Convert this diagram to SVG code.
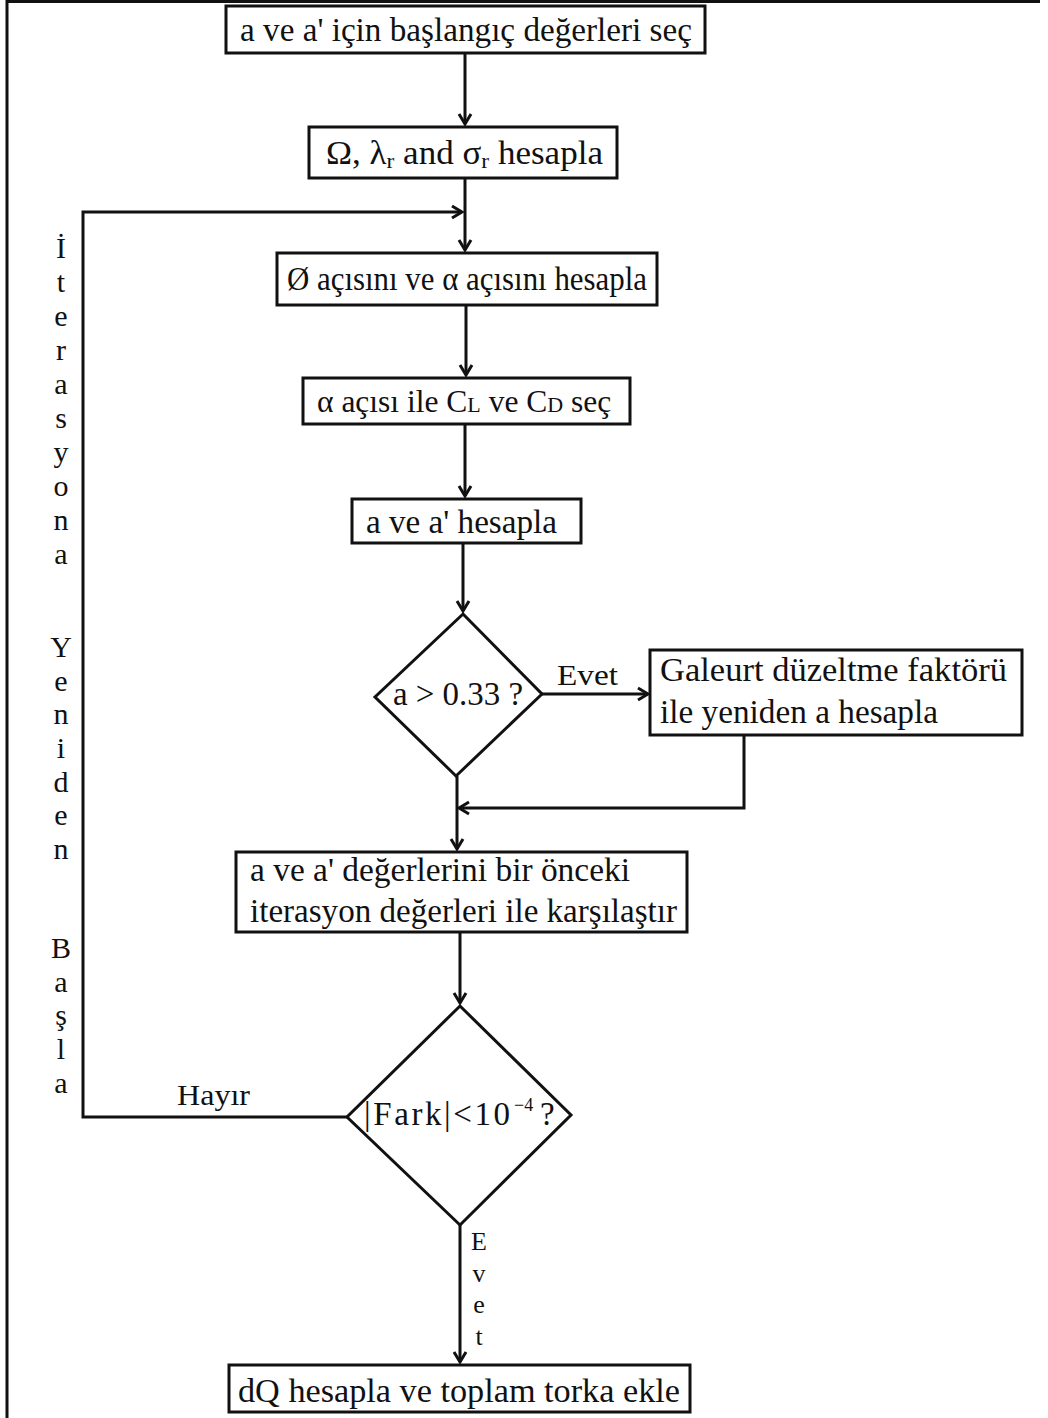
<svg xmlns="http://www.w3.org/2000/svg" width="1048" height="1418" viewBox="0 0 1048 1418">
<style>
text{font-family:"Liberation Serif","Times New Roman",serif;font-size:33px;fill:#111}
.box{fill:#fff;stroke:#111;stroke-width:3}
.ln{fill:none;stroke:#111;stroke-width:3}
.v{font-size:30px;text-anchor:middle}
.ve{font-size:26px;text-anchor:middle}
</style>
<defs>
<marker id="ah" markerUnits="userSpaceOnUse" viewBox="0 0 14 16" refX="12" refY="8" markerWidth="14" markerHeight="16" orient="auto">
<path d="M2,2 L12,8 L2,14" fill="none" stroke="#111" stroke-width="3"/>
</marker>
</defs>
<rect x="0" y="0" width="1048" height="1418" fill="#fff"/>
<polyline points="7,1418 7,1.5 1040,1.5" fill="none" stroke="#111" stroke-width="3"/>

<g id="connectors">
<line class="ln" x1="465" y1="53" x2="465" y2="124" marker-end="url(#ah)"/>
<line class="ln" x1="465" y1="178" x2="465" y2="250" marker-end="url(#ah)"/>
<polyline class="ln" points="347,1117 83,1117 83,212 462,212" marker-end="url(#ah)"/>
<line class="ln" x1="466" y1="305" x2="466" y2="375" marker-end="url(#ah)"/>
<line class="ln" x1="465" y1="424" x2="465" y2="496" marker-end="url(#ah)"/>
<line class="ln" x1="463" y1="543" x2="463" y2="611" marker-end="url(#ah)"/>
<line class="ln" x1="542" y1="694" x2="648" y2="694" marker-end="url(#ah)"/>
<polyline class="ln" points="744,735 744,808 459,808" marker-end="url(#ah)"/>
<line class="ln" x1="457" y1="776" x2="457" y2="849" marker-end="url(#ah)"/>
<line class="ln" x1="460" y1="932" x2="460" y2="1003" marker-end="url(#ah)"/>
<line class="ln" x1="460" y1="1225" x2="460" y2="1362" marker-end="url(#ah)"/>
<text x="557" y="685" style="font-size:30px" textLength="61" lengthAdjust="spacingAndGlyphs">Evet</text>
<text x="177" y="1105" style="font-size:30px" textLength="73" lengthAdjust="spacingAndGlyphs">Hayır</text>
<g id="evet-vertical">
<text class="ve" x="479" y="1250">E</text>
<text class="ve" x="479" y="1282">v</text>
<text class="ve" x="479" y="1313">e</text>
<text class="ve" x="479" y="1345">t</text>
</g>
</g>

<g id="loop-label">
<text class="v" x="61" y="258">İ</text>
<text class="v" x="61" y="292">t</text>
<text class="v" x="61" y="326">e</text>
<text class="v" x="61" y="360">r</text>
<text class="v" x="61" y="394">a</text>
<text class="v" x="61" y="428">s</text>
<text class="v" x="61" y="462">y</text>
<text class="v" x="61" y="496">o</text>
<text class="v" x="61" y="530">n</text>
<text class="v" x="61" y="564">a</text>
<text class="v" x="61" y="657">Y</text>
<text class="v" x="61" y="691">e</text>
<text class="v" x="61" y="724">n</text>
<text class="v" x="61" y="758">i</text>
<text class="v" x="61" y="792">d</text>
<text class="v" x="61" y="825">e</text>
<text class="v" x="61" y="859">n</text>
<text class="v" x="61" y="958">B</text>
<text class="v" x="61" y="992">a</text>
<text class="v" x="61" y="1025">ş</text>
<text class="v" x="61" y="1059">l</text>
<text class="v" x="61" y="1093">a</text>
</g>

<g id="n1">
<rect class="box" x="226" y="6" width="479" height="47"/>
<text x="240" y="41" textLength="452" lengthAdjust="spacingAndGlyphs">a ve a' için başlangıç değerleri seç</text>
</g>
<g id="n2">
<rect class="box" x="309" y="127" width="308" height="51"/>
<text x="326" y="164" textLength="277" lengthAdjust="spacingAndGlyphs">Ω, λ<tspan font-size="22" dy="4">r</tspan><tspan dy="-4">  and σ</tspan><tspan font-size="22" dy="4">r</tspan><tspan dy="-4"> hesapla</tspan></text>
</g>
<g id="n3">
<rect class="box" x="277" y="253" width="380" height="52"/>
<text x="287" y="290" textLength="360" lengthAdjust="spacingAndGlyphs">Ø açısını ve α açısını hesapla</text>
</g>
<g id="n4">
<rect class="box" x="303" y="378" width="327" height="46"/>
<text x="317" y="412" style="font-size:31.5px">α açısı ile C<tspan font-size="22">L</tspan> ve C<tspan font-size="22">D</tspan> seç</text>
</g>
<g id="n5">
<rect class="box" x="352" y="499" width="229" height="44"/>
<text x="366" y="533" textLength="191" lengthAdjust="spacingAndGlyphs">a ve a' hesapla</text>
</g>
<g id="d1">
<polygon class="box" points="463,614 542,694 456,776 375,697"/>
<text x="393" y="705" textLength="130" lengthAdjust="spacingAndGlyphs">a &gt; 0.33 ?</text>
</g>
<g id="n6">
<rect class="box" x="650" y="650" width="372" height="85"/>
<text x="660" y="681" textLength="347" lengthAdjust="spacingAndGlyphs">Galeurt düzeltme faktörü</text>
<text x="660" y="723" textLength="278" lengthAdjust="spacingAndGlyphs">ile yeniden a hesapla</text>
</g>
<g id="n7">
<rect class="box" x="236" y="852" width="451" height="80"/>
<text x="250" y="881" textLength="380" lengthAdjust="spacingAndGlyphs">a ve a' değerlerini bir önceki</text>
<text x="250" y="922" textLength="427" lengthAdjust="spacingAndGlyphs">iterasyon değerleri ile karşılaştır</text>
</g>
<g id="d2">
<polygon class="box" points="460,1006 571,1115 460,1225 347,1117"/>
<text x="364" y="1125" letter-spacing="2.6">|Fark|&lt;10<tspan x="514" y="1111" font-size="18" letter-spacing="0">−4</tspan><tspan x="540" y="1125" letter-spacing="0">?</tspan></text>
</g>
<g id="n8">
<rect class="box" x="229" y="1365" width="461" height="47"/>
<text x="238" y="1402" textLength="442" lengthAdjust="spacingAndGlyphs">dQ hesapla ve toplam torka ekle</text>
</g>
</svg>
